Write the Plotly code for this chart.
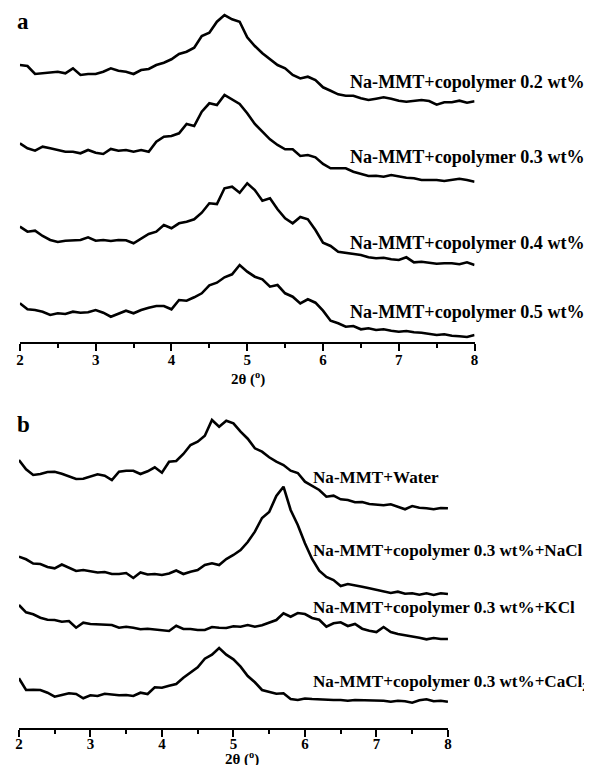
import plotly.graph_objects as go

# 2-theta grid (degrees)
TWO_THETA = [2.0, 2.1, 2.2, 2.3, 2.4, 2.5, 2.6, 2.7, 2.8, 2.9,
             3.0, 3.1, 3.2, 3.3, 3.4, 3.5, 3.6, 3.7, 3.8, 3.9,
             4.0, 4.1, 4.2, 4.3, 4.4, 4.5, 4.6, 4.7, 4.8, 4.9,
             5.0, 5.1, 5.2, 5.3, 5.4, 5.5, 5.6, 5.7, 5.8, 5.9,
             6.0, 6.1, 6.2, 6.3, 6.4, 6.5, 6.6, 6.7, 6.8, 6.9,
             7.0, 7.1, 7.2, 7.3, 7.4, 7.5, 7.6, 7.7, 7.8, 7.9, 8.0]

# Panel a: stacked intensities (a.u.)
A_NAMES = ["Na-MMT+copolymer 0.2 wt%", "Na-MMT+copolymer 0.3 wt%",
           "Na-MMT+copolymer 0.4 wt%", "Na-MMT+copolymer 0.5 wt%"]
a_02 = [277, 276, 268, 268.7, 269.3, 270.3, 268.7, 273.7, 267, 268,
        268, 270.3, 273.7, 271.3, 270.3, 268, 272, 273, 277, 279.3,
        282.7, 288, 290.3, 294.3, 306, 309.3, 320.3, 327, 322.7, 320.3,
        304.7, 296, 288.7, 282.7, 277, 273.7, 267, 263.5, 265.3, 262,
        254.7, 251.3, 247.7, 246.3, 246.3, 243.7, 242, 243.3, 244.7, 243.3,
        241.3, 240.3, 241.3, 242, 241, 237.3, 239.7, 239.7, 241.3, 239.3, 240.7]
a_03 = [198.7, 193.7, 191.3, 195.3, 193.7, 192, 190.3, 190.3, 188.7, 192,
        189.3, 188, 193, 191.3, 192, 190.3, 192, 190.3, 200.3, 205.3,
        206, 208.7, 218, 216, 230.3, 238.7, 237, 247, 242.7, 238,
        228.7, 218, 210.3, 202.7, 197, 192.7, 192.7, 186, 187, 184.7,
        178, 173.7, 173.7, 173.7, 170.3, 168, 166, 166.3, 165.3, 167,
        165.3, 164.3, 163.7, 162, 162, 162, 161, 162.3, 163.3, 162, 160.3]
a_04 = [115.3, 110.3, 111.3, 106, 102, 100, 101.3, 102, 102, 104.7,
        101.3, 102, 101, 102, 101.7, 98.7, 103.7, 108, 110.3, 117,
        113.7, 118.7, 120.3, 122.7, 129.3, 138.7, 138, 153.7, 155.3, 149.3,
        158.7, 152, 141.3, 143.7, 132.7, 123.7, 118.7, 125, 122.7, 112,
        99.3, 96, 90.3, 89.3, 88, 87, 84.7, 83.7, 84.3, 82.7,
        82, 84.7, 79.7, 80.3, 79.3, 78.3, 78.7, 78.7, 77.7, 79.7, 77]
a_05 = [38.7, 32.7, 32, 30.3, 27, 28.7, 28, 30.3, 29.3, 29.7,
        32, 29.3, 25.3, 28, 31.3, 28.7, 32, 34.3, 36, 36,
        32.7, 42, 41.3, 44.7, 48.7, 56.7, 59.3, 64.7, 67.7, 77,
        70.3, 65.3, 62.7, 55.3, 57, 48.7, 45.3, 38.5, 42.7, 39.3,
        31.3, 21.3, 18.7, 15.3, 16, 12.7, 13.7, 12, 12.7, 11.3,
        10.3, 11, 9.7, 9.3, 8, 7, 7.7, 6.3, 5.7, 5, 7]

# Panel b: stacked intensities (a.u.)
B_NAMES = ["Na-MMT+Water", "Na-MMT+copolymer 0.3 wt%+NaCl",
           "Na-MMT+copolymer 0.3 wt%+KCl", "Na-MMT+copolymer 0.3 wt%+CaCl<sub>2</sub>"]
b_water = [268, 258.7, 253, 254, 256, 256.3, 254.3, 251.3, 249, 249.3,
           251.3, 253.7, 252.3, 248, 256.3, 257.3, 257.3, 254, 256.7, 260.7,
           255.3, 266.3, 267, 274, 283, 286.3, 292.3, 308, 301.3, 307.3,
           304.7, 296.3, 289.3, 279.7, 276.3, 270.7, 266.3, 263, 257.3, 255,
           246.3, 242, 238, 231.3, 232.3, 228.7, 228, 225.7, 226, 224,
           223.7, 222.7, 223.7, 221.3, 218.7, 222, 220.3, 219.7, 218.7, 220, 219.7]
b_nacl = [171.3, 168.7, 164.5, 164, 161, 159.7, 163.5, 160.5, 157, 158,
          157, 155.5, 156, 154, 154, 155, 150, 155.5, 153.5, 154,
          153, 154.5, 157.5, 154, 156.3, 158, 163, 164.7, 163, 169,
          173, 178, 186, 196.3, 210, 216, 232, 241.3, 218, 203,
          184.7, 169, 157.3, 151, 148, 142, 144, 143, 141.3, 139.7,
          138, 136.7, 135, 136.3, 134.3, 134.7, 133.3, 134.7, 133, 134.7, 134]
b_kcl = [123, 115.7, 113.7, 110.3, 108.3, 108, 106.3, 107, 100.3, 105.3,
         104, 103.7, 104, 103, 100.3, 101.3, 100.3, 98.7, 99.3, 98.7,
         98, 97, 102.3, 99, 99, 98, 98, 101, 100.3, 100,
         101.7, 101.3, 103, 101.3, 102.7, 105.3, 108, 114.7, 111.3, 115,
         114, 110, 108.3, 101.3, 104.7, 105.7, 102, 104, 99.3, 97.3,
         96, 101, 96, 94, 93, 92, 90.3, 88.7, 90, 89, 89]
b_cacl2 = [49.7, 38, 38.3, 38, 35.3, 31.3, 33, 34.7, 34, 29.7,
           32.7, 32, 34.3, 33.3, 32.7, 33, 32, 35.3, 34, 40.7,
           40.3, 42.3, 44, 50.3, 55.3, 60.7, 69.3, 73.3, 80, 73.3,
           68.7, 61.3, 52, 45.7, 38, 36, 34.3, 34.7, 29, 28,
           29.5, 29, 28.5, 28.7, 28, 28, 27.3, 28, 27.7, 27.3,
           27.7, 27.3, 26.3, 27.3, 26.7, 25.3, 27.7, 28.7, 26.7, 27.3, 26.3]

TICKS = [2, 3, 4, 5, 6, 7, 8]

# page has an 8px body margin; the figure is sized to fill the rest
OFF = 8
W, H = 592 - OFF, 765 - OFF
FONT = "Liberation Serif"

def px(x):
    return (x - OFF) / W

def py(y):
    return 1 - (y - OFF) / H

fig = go.Figure()
for vals, name in zip([a_02, a_03, a_04, a_05], A_NAMES):
    fig.add_trace(go.Scatter(x=TWO_THETA, y=vals, mode="lines", name=name,
                             line=dict(color="black", width=2.6),
                             xaxis="x", yaxis="y", showlegend=False))
for vals, name in zip([b_water, b_nacl, b_kcl, b_cacl2], B_NAMES):
    fig.add_trace(go.Scatter(x=TWO_THETA, y=vals, mode="lines", name=name,
                             line=dict(color="black", width=2.6),
                             xaxis="x2", yaxis="y2", showlegend=False))

def xaxis_style(standoff):
    return dict(range=[2, 8], tickvals=TICKS, ticktext=[f"<b>{t}</b>" for t in TICKS],
                ticks="outside", ticklen=7, tickwidth=2, tickcolor="black",
                ticklabelstandoff=standoff,
                showline=True, linecolor="black", linewidth=2,
                showgrid=False, zeroline=False,
                tickfont=dict(family=FONT, size=15, color="black"),
                minor=dict(dtick=0.5, tick0=2, ticks="outside", ticklen=4,
                           tickwidth=2, tickcolor="black", showgrid=False),
                fixedrange=True)

ycommon = dict(visible=False, showgrid=False, zeroline=False, fixedrange=True)

fig.update_layout(
    width=W, height=H, autosize=False,
    margin=dict(l=0, r=0, t=0, b=0),
    paper_bgcolor="white", plot_bgcolor="white",
    xaxis=dict(domain=[px(16), px(477)], anchor="y", **xaxis_style(-4)),
    yaxis=dict(domain=[py(342), py(8)], range=[0, 334], anchor="x", **ycommon),
    xaxis2=dict(domain=[px(15), px(450)], anchor="y2", **xaxis_style(-6)),
    yaxis2=dict(domain=[py(728), py(390)], range=[0, 338], anchor="x2", **ycommon),
)

ann = []
for name, yc in zip(A_NAMES, [82, 157, 243, 312]):
    ann.append(dict(text=f"<b>{name}</b>", x=px(349), y=py(yc), size=18.1))
for name, yc in zip(B_NAMES, [477, 550, 607, 683]):
    ann.append(dict(text=f"<b>{name}</b>", x=px(311), y=py(yc), size=17.1))
for a in ann:
    s = a.pop("size")
    a.update(xref="paper", yref="paper", xanchor="left", yanchor="middle",
             showarrow=False, font=dict(family=FONT, size=s, color="black"))

for txt, x, y, s in [("<b>a</b>", 19, 21, 23), ("<b>b</b>", 20, 425, 23),
                     ("<b>2θ (<sup>o</sup>)</b>", 247, 379, 15),
                     ("<b>2θ (<sup>o</sup>)</b>", 241, 758, 15)]:
    ann.append(dict(text=txt, x=px(x), y=py(y), xref="paper", yref="paper",
                    xanchor="center", yanchor="middle", showarrow=False,
                    font=dict(family=FONT, size=s, color="black")))
fig.update_layout(annotations=ann)

fig.write_html("out.html")
